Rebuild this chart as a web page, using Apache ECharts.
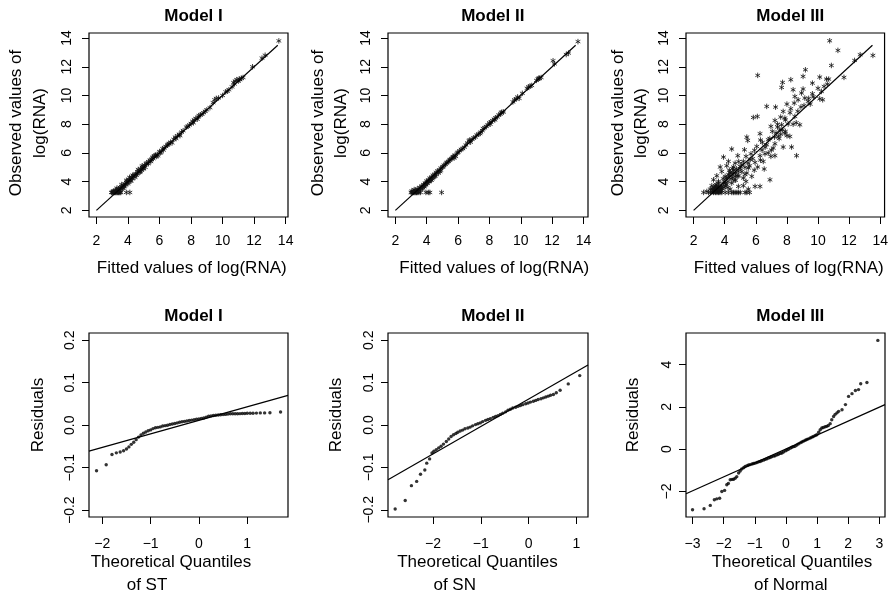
<!DOCTYPE html>
<html>
<head>
<meta charset="utf-8">
<script src="https://cdn.jsdelivr.net/npm/echarts@6/dist/echarts.min.js"></script>
<style>
html,body{margin:0;padding:0;background:#fff}
#chart{width:891px;height:596px}
</style>
</head>
<body>
<div id="chart"></div>
<script>
// ---- Fitted vs observed log(RNA), one list of [fitted, observed] per model ----
const fitObsI = [
  [2.95,3.25],[3.0,3.25],[3.05,3.25],[3.1,3.25],[3.15,3.25],[3.2,3.25],[3.25,3.25],[3.3,3.25],[3.35,3.25],[3.4,3.25],
  [3.45,3.25],[3.5,3.25],[3.55,3.25],[3.9,3.25],[4.12,3.25],
  [3.05,3.3],[3.1,3.35],[3.2,3.3],[3.2,3.4],[3.3,3.45],[3.35,3.3],[3.4,3.5],[3.45,3.4],[3.5,3.6],[3.55,3.5],
  [3.6,3.65],[3.65,3.55],[3.7,3.75],[3.75,3.65],[3.8,3.85],[3.85,3.8],[3.9,3.95],[3.95,4.0],[4.0,3.95],[4.05,4.1],
  [4.1,4.15],[4.15,4.05],[4.2,4.25],[4.25,4.3],[4.3,4.2],[4.35,4.4],[4.4,4.45],[4.5,4.55],[4.55,4.45],[4.6,4.7],
  [4.7,4.75],[4.75,4.65],[4.8,4.9],[4.85,4.8],[4.9,5.0],[4.95,4.9],[5.0,5.05],[5.05,5.15],[5.1,5.0],[5.2,5.3],
  [5.3,5.25],[5.4,5.5],[5.5,5.55],[5.55,5.7],[5.6,5.6],[5.7,5.8],[5.75,5.85],[5.85,5.9],[5.9,5.8],[6.0,6.1],
  [6.1,6.05],[6.2,6.3],[6.3,6.35],[6.4,6.45],[6.55,6.6],[6.7,6.75],[6.8,6.7],[6.9,6.95],[7.0,7.1],[7.15,7.2],
  [7.25,7.3],[7.3,7.2],[7.5,7.55],[7.7,7.8],[7.8,7.85],[7.9,7.95],[8.0,8.05],[8.1,8.2],[8.2,8.3],[8.3,8.4],
  [8.4,8.35],[8.5,8.6],[8.6,8.65],[8.7,8.7],[8.8,8.8],[9.0,9.0],[9.2,9.15],[9.4,9.5],[9.5,9.7],[9.6,9.8],
  [9.75,9.83],[10.0,10.0],[10.2,10.25],[10.3,10.3],[10.4,10.4],[10.6,10.6],[10.7,10.9],[10.8,11.0],[10.9,11.1],[11.0,11.0],
  [11.1,11.1],[11.2,11.2],[11.3,11.25],[11.9,12.0],[12.5,12.6],[12.7,12.8],[13.57,13.8],
  [3.3,3.55],[3.5,3.35],[3.6,3.8],[3.7,3.55],[3.8,3.7],[3.9,4.1],[4.0,3.85],[4.1,4.3],[4.2,4.05],[4.3,4.45],
  [4.45,4.3],[4.6,4.55],[4.65,4.85],[4.8,4.7],[4.9,5.1],[5.0,4.9],[5.15,5.25],[5.3,5.4],[5.45,5.4],[5.65,5.75],
  [5.8,5.75],[6.05,6.0],[6.25,6.2],[6.5,6.55],[6.6,6.65],[7.05,7.0],[7.4,7.45],[8.15,8.1],[8.45,8.5],[8.9,8.9],
  [10.75,10.8],[11.05,11.15]
];
const fitObsII = [
  [3.0,3.25],[3.05,3.25],[3.1,3.25],[3.15,3.25],[3.2,3.25],[3.25,3.25],[3.3,3.25],[3.35,3.25],[3.4,3.25],[3.5,3.25],
  [3.6,3.25],[3.95,3.25],[4.1,3.25],[4.2,3.25],[4.95,3.25],
  [3.05,3.35],[3.15,3.3],[3.2,3.45],[3.3,3.4],[3.35,3.3],[3.4,3.5],[3.5,3.4],[3.55,3.6],[3.6,3.45],[3.7,3.7],
  [3.75,3.6],[3.8,3.8],[3.85,3.65],[3.9,3.9],[3.95,3.8],[4.0,4.05],[4.05,3.9],[4.1,4.1],[4.15,4.0],[4.2,4.25],
  [4.25,4.15],[4.3,4.3],[4.35,4.2],[4.4,4.45],[4.5,4.5],[4.55,4.4],[4.6,4.65],[4.7,4.75],[4.8,4.8],[4.85,4.7],
  [4.9,4.95],[5.0,5.0],[5.1,5.15],[5.2,5.2],[5.3,5.35],[5.4,5.4],[5.5,5.55],[5.6,5.6],[5.7,5.75],[5.8,5.85],
  [5.85,5.75],[5.95,6.0],[6.1,6.15],[6.2,6.25],[6.3,6.3],[6.5,6.55],[6.6,6.7],[6.7,6.85],[6.8,6.75],[7.0,7.05],
  [7.1,7.1],[7.2,7.25],[7.3,7.3],[7.45,7.45],[7.6,7.7],[7.7,7.75],[7.8,7.85],[7.9,7.95],[8.0,8.1],[8.1,8.15],
  [8.2,8.25],[8.3,8.35],[8.4,8.45],[8.5,8.5],[8.6,8.65],[8.7,8.7],[8.8,8.85],[8.9,8.85],[9.5,9.55],[9.6,9.7],
  [9.8,9.9],[9.9,9.8],[10.1,10.15],[10.4,10.5],[10.5,10.6],[10.7,10.7],[11.0,11.05],[11.1,11.15],[11.2,11.2],[11.3,11.25],
  [12.06,12.42],[12.15,12.2],[12.9,12.85],[13.05,12.95],[13.65,13.75],
  [3.25,3.35],[3.45,3.3],[3.6,3.55],[3.7,3.5],[3.8,3.7],[3.9,3.75],[4.0,3.9],[4.1,4.0],[4.2,4.1],[4.3,4.1],
  [4.4,4.3],[4.5,4.35],[4.6,4.5],[4.75,4.6],[4.9,4.8],[5.05,5.05],[5.25,5.3],[5.45,5.5],[5.65,5.7],[5.75,5.65],
  [6.0,6.05],[6.4,6.4],[6.75,6.9],[6.9,6.95],[7.4,7.35],[7.55,7.55],[8.05,8.0],[8.35,8.3],[8.75,8.8],[9.7,9.75],
  [10.6,10.65],[11.15,11.2]
];
const fitObsIII = [
  [10.75,13.81],[11.28,13.14],[12.71,12.84],[13.53,12.79],[12.35,12.44],[10.86,12.09],[6.12,11.4],[9.19,11.79],[11.67,11.26],[7.72,10.91],
  [8.25,11.1],[7.66,10.56],[9.04,11.33],[9.64,10.86],[10.11,11.28],[10.54,11.14],[10.69,11.14],[10.6,10.79],[10.39,10.63],[10.22,10.28],
  [10.11,9.77],[9.64,10.12],[9.04,10.45],[8.94,10.17],[8.4,10.4],[8.51,9.93],[8.72,9.7],[9.15,9.82],[9.36,9.59],[8.47,9.47],
  [6.7,9.24],[7.27,9.19],[8.25,9.08],[7.76,8.89],[5.84,8.47],[6.1,8.54],[7.23,8.26],[7.87,8.43],[8.51,8.54],[8.83,7.96],
  [8.08,8.01],[7.66,7.96],[6.97,7.85],[7.06,7.5],[6.27,7.34],[7.55,7.61],[7.87,7.38],[8.19,7.15],[7.44,7.15],[6.8,6.92],
  [5.42,7.1],[5.48,6.87],[6.42,6.73],[7.23,6.64],[7.12,6.34],[6.7,6.57],[6.06,6.45],[7.76,6.41],[8.3,6.41],[5.91,6.18],
  [5.69,5.94],[5.27,6.22],[4.45,6.27],[4.84,5.81],[5.37,5.76],[6.27,5.81],[6.59,5.94],[6.97,5.76],[7.23,5.81],[8.62,5.81],
  [3.92,5.71],[4.24,5.41],[4.67,5.29],[5.2,5.41],[5.63,5.53],[5.95,5.34],[6.48,5.41],[6.12,5.02],[6.54,4.88],[5.52,4.95],
  [4.99,5.06],[4.56,5.02],[4.13,5.11],[3.71,5.02],[3.81,4.71],[4.35,4.65],[4.88,4.71],[5.42,4.6],[5.74,4.37],[5.2,4.25],
  [4.67,4.37],[4.03,4.37],[3.49,4.41],[3.28,4.13],[3.6,4.02],[6.91,4.13],[5.37,4.02],[5.2,3.72],[5.95,3.67],[6.27,3.67],
  [5.52,3.48],[4.88,3.67],[4.35,3.48],[4.03,3.67],[3.17,3.72],[3.07,3.48],[2.85,3.32],[2.64,3.25],
  [2.96,3.25],[3.28,3.25],[3.6,3.25],[3.81,3.25],[4.03,3.25],[4.24,3.25],[4.56,3.25],[4.67,3.25],[4.78,3.25],[4.88,3.25],
  [5.31,3.25],[5.42,3.25],[3.1,3.25],[3.4,3.25],[3.5,3.25],[3.7,3.25],
  [3.2,3.3],[3.3,3.4],[3.4,3.5],[3.5,3.3],[3.6,3.6],[3.5,3.7],[3.4,3.3],[3.3,3.6],[3.7,3.4],[3.6,3.9],
  [3.45,3.8],[3.55,3.45],[3.65,3.3],[3.75,3.55],[3.2,3.5],[3.35,3.35],[3.5,3.55],[3.6,3.35],[3.45,3.6],[3.8,3.7],
  [3.9,3.9],[4.0,4.0],[4.1,4.2],[4.3,4.4],[4.2,4.0],[4.4,4.6],[4.5,4.3],[4.6,4.8],[4.7,4.6],[4.8,4.4],
  [4.5,4.9],[4.3,4.8],[4.1,3.8],[3.9,4.2],[4.6,4.1],[5.0,4.9],[5.1,5.2],[4.9,5.4],[5.6,5.1],[5.8,5.6],
  [6.4,6.2],[6.6,6.4],[6.9,7.0],[7.3,7.4],[7.5,7.0],[7.6,7.3],[7.4,7.8],[7.9,7.5],[8.0,7.2],[8.2,8.8],
  [7.9,8.3],[7.6,8.5],[7.4,8.0],[8.9,9.2],[9.4,9.8],[9.7,9.9],[8.6,8.1],[8.0,9.4],[7.0,6.2],[6.3,6.9],
  [3.25,3.4],[3.35,3.5],[3.45,3.45],[3.55,3.35],[3.65,3.5],[3.7,3.7],[3.75,3.35],[3.4,3.7],[3.3,3.3],[3.6,3.45],
  [3.5,3.5],[3.85,3.5],[3.95,3.6],[4.05,3.9],[4.15,4.3],[4.25,4.5],[4.4,4.2],[4.55,4.6],[4.75,4.9],[4.9,4.4],
  [5.1,4.7],[5.3,5.0],[5.5,5.3],[5.0,3.25],[5.6,3.25],[4.45,3.25],[4.2,3.6],[4.45,3.9],[4.7,4.1],[5.3,4.5],
  [5.9,4.8],[6.3,5.5],[6.8,6.0],[7.2,7.1],[7.7,7.6],[8.4,8.0],[8.7,8.9],[9.1,9.3],[9.5,9.4],[10.0,10.5],
  [10.3,9.7]
];

// Straight reference segment drawn in each fitted-vs-observed panel (from, to)
const diagLine = [2, 13.5];

// ---- Residual quantile plots: theoretical quantiles (x) and residuals (y) ----
const qqXI = [-2.12,-1.92,-1.80,-1.71,-1.63,-1.56,-1.50,-1.45,-1.40,-1.35,-1.30,-1.25,-1.20,-1.15,-1.10,-1.05,-1.00,-0.95,
  -0.90,-0.85,-0.80,-0.75,-0.70,-0.65,-0.60,-0.55,-0.50,-0.45,-0.40,-0.35,-0.30,-0.25,-0.20,-0.15,-0.10,-0.05,0.00,
  0.05,0.10,0.15,0.20,0.25,0.30,0.35,0.40,0.45,0.50,0.55,0.60,0.65,0.70,0.75,0.80,0.85,0.90,0.95,1.00,1.06,1.12,
  1.19,1.27,1.36,1.47,1.69];
const qqYI = [-0.107,-0.093,-0.069,-0.065,-0.063,-0.060,-0.056,-0.051,-0.045,-0.040,-0.034,-0.028,-0.023,-0.019,-0.016,-0.013,-0.011,-0.008,
  -0.006,-0.005,-0.004,-0.002,-0.001,0.000,0.0016,0.003,0.004,0.0055,0.007,0.008,0.009,0.010,0.011,0.012,0.013,0.014,0.015,
  0.016,0.017,0.019,0.021,0.022,0.023,0.0235,0.024,0.0245,0.025,0.0255,0.0265,0.027,0.027,0.027,0.027,0.0272,0.0275,0.0275,0.028,0.028,0.028,
  0.0285,0.029,0.029,0.0295,0.031];
const qqXII = [-2.79,-2.58,-2.45,-2.34,-2.26,-2.17,-2.13,-2.07,-2.02,-1.98,-1.93,-1.88,-1.83,-1.78,-1.72,-1.67,-1.62,-1.57,-1.52,-1.48,
  -1.43,-1.38,-1.33,-1.27,-1.22,-1.17,-1.11,-1.06,-1.01,-0.96,-0.90,-0.85,-0.80,-0.74,-0.69,-0.64,-0.59,-0.54,-0.48,-0.43,
  -0.38,-0.33,-0.27,-0.22,-0.17,-0.12,-0.06,-0.01,0.04,0.10,0.15,0.20,0.26,0.31,0.36,0.41,0.46,0.52,0.58,0.66,0.83,1.07];
const qqYII = [-0.198,-0.178,-0.143,-0.133,-0.116,-0.106,-0.090,-0.080,-0.066,-0.062,-0.058,-0.054,-0.050,-0.045,-0.039,-0.033,-0.027,-0.023,-0.020,-0.017,
  -0.014,-0.012,-0.009,-0.007,-0.005,-0.002,0.001,0.003,0.005,0.008,0.011,0.013,0.015,0.018,0.020,0.022,0.025,0.028,0.031,0.035,
  0.037,0.040,0.042,0.044,0.046,0.048,0.050,0.052,0.054,0.056,0.058,0.060,0.062,0.064,0.066,0.068,0.070,0.072,0.076,0.082,0.097,0.1165];
const qqXIII = [-3.0,-2.63,-2.43,-2.30,-2.22,-2.13,-2.06,-1.97,-1.90,-1.85,-1.79,-1.73,-1.68,-1.63,-1.58,-1.52,-1.47,-1.42,-1.36,-1.31,
  -1.25,-1.20,-1.15,-1.09,-1.04,-0.99,-0.93,-0.88,-0.83,-0.78,-0.72,-0.67,-0.62,-0.56,-0.51,-0.46,-0.40,-0.35,-0.29,-0.24,
  -0.18,-0.13,-0.08,-0.02,0.03,0.08,0.14,0.19,0.24,0.29,0.35,0.40,0.46,0.51,0.56,0.62,0.67,0.72,0.78,0.83,
  0.88,0.94,0.99,1.05,1.10,1.15,1.20,1.26,1.31,1.36,1.42,1.47,1.53,1.58,1.64,1.69,1.80,1.91,2.01,2.12,
  2.23,2.33,2.40,2.60,2.95];
const qqYIII = [-2.87,-2.82,-2.66,-2.39,-2.35,-2.32,-2.00,-1.95,-1.68,-1.62,-1.45,-1.43,-1.42,-1.37,-1.30,-1.13,-1.03,-0.94,-0.88,-0.82,
  -0.78,-0.75,-0.73,-0.70,-0.68,-0.66,-0.63,-0.60,-0.58,-0.55,-0.52,-0.48,-0.46,-0.42,-0.39,-0.36,-0.33,-0.31,-0.27,-0.24,
  -0.20,-0.18,-0.13,-0.08,-0.04,0.00,0.05,0.09,0.12,0.14,0.20,0.25,0.30,0.34,0.38,0.42,0.46,0.49,0.53,0.57,
  0.60,0.65,0.68,0.80,0.92,1.00,1.03,1.06,1.08,1.12,1.21,1.39,1.55,1.65,1.72,1.79,1.87,2.11,2.50,2.63,
  2.78,2.82,3.10,3.16,5.15];

// Reference lines of the quantile plots: [intercept, slope]
const qqLineI = [0.0114, 0.0318];
const qqLineII = [0.0612, 0.0647];
const qqLineIII = [0.0086, 0.66];

// Tick positions
const ticksFit = [2, 4, 6, 8, 10, 12, 14];
const ticksResSmall = [-0.2, -0.1, 0, 0.1, 0.2];
const ticksQI = [-2, -1, 0, 1];
const ticksQII = [-2, -1, 0, 1];
const ticksQIII = [-3, -2, -1, 0, 1, 2, 3];
const ticksResIII = [-2, 0, 2, 4];

const titles = ['Model I', 'Model II', 'Model III'];

// ---- layout ----
const FONT = '"Liberation Sans", Arial, Helvetica, sans-serif';
const grids = [
  {left: 89, top: 33, width: 199, height: 184},
  {left: 388, top: 33, width: 200, height: 184},
  {left: 686, top: 33, width: 199, height: 184},
  {left: 89, top: 333, width: 199, height: 184},
  {left: 388, top: 333, width: 200, height: 184},
  {left: 686, top: 333, width: 199, height: 184}
];
const xRanges = [[1.53, 14.15], [1.53, 14.29], [1.51, 14.28], [-2.276, 1.844], [-2.94, 1.243], [-3.21, 3.18]];
const yRanges = [[1.54, 14.35], [1.54, 14.35], [1.54, 14.35], [-0.216, 0.217], [-0.217, 0.217], [-3.21, 5.5]];
const xTicks = [ticksFit, ticksFit, ticksFit, ticksQI, ticksQII, ticksQIII];
const yTicks = [ticksFit, ticksFit, ticksFit, ticksResSmall, ticksResSmall, ticksResIII];

const minus = v => (v < 0 ? '\u2212' + Math.abs(v) : String(v));
const oneDec = v => { const s = Math.abs(v).toFixed(1); return v < -1e-9 ? '\u2212' + s : s; };

const xAxes = grids.map((g, i) => ({
  type: 'value', gridIndex: i, min: xRanges[i][0], max: xRanges[i][1], position: 'bottom',
  axisLine: {show: false, onZero: false}, splitLine: {show: false},
  axisTick: {show: true, length: 7, customValues: xTicks[i], lineStyle: {color: '#000', width: 1}},
  axisLabel: {customValues: xTicks[i], color: '#000', fontSize: 14, fontFamily: FONT,
    margin: i < 3 ? 17 : 20, formatter: minus, showMinLabel: true, showMaxLabel: true}
}));
const yAxes = grids.map((g, i) => ({
  type: 'value', gridIndex: i, min: yRanges[i][0], max: yRanges[i][1], position: 'left',
  axisLine: {show: false, onZero: false}, splitLine: {show: false},
  axisTick: {show: true, length: 7, customValues: yTicks[i], lineStyle: {color: '#000', width: 1}},
  axisLabel: {customValues: yTicks[i], color: '#000', fontSize: 14, fontFamily: FONT, rotate: 90,
    margin: i < 3 ? 15 : 12, formatter: (i === 3 || i === 4) ? oneDec : minus,
    showMinLabel: true, showMaxLabel: true}
}));

const STAR = 'path://M0,-10L0,10M-8.66,-5L8.66,5M-8.66,5L8.66,-5';
const starSeries = (data, i) => ({
  type: 'scatter', xAxisIndex: i, yAxisIndex: i, data: data, silent: true,
  symbol: STAR, symbolSize: 5.5, symbolKeepAspect: true,
  itemStyle: {color: 'rgba(0,0,0,0)', borderColor: '#111', borderWidth: 1}, z: 3
});
const dotSeries = (xs, ys, i) => ({
  type: 'scatter', xAxisIndex: i, yAxisIndex: i, silent: true,
  data: xs.map((x, k) => [x, ys[k]]),
  symbol: 'circle', symbolSize: 3.4, itemStyle: {color: '#000'}, z: 3
});
const segSeries = (pts, i) => ({
  type: 'line', xAxisIndex: i, yAxisIndex: i, data: pts, silent: true,
  symbol: 'none', lineStyle: {color: '#000', width: 1.2}, z: 4
});
const qqSeg = (ab, i) => segSeries(xRanges[i].map(x => [x, ab[0] + ab[1] * x]), i);

const series = [
  starSeries(fitObsI, 0), segSeries([[diagLine[0], diagLine[0]], [diagLine[1], diagLine[1]]], 0),
  starSeries(fitObsII, 1), segSeries([[diagLine[0], diagLine[0]], [diagLine[1], diagLine[1]]], 1),
  starSeries(fitObsIII, 2), segSeries([[diagLine[0], diagLine[0]], [diagLine[1], diagLine[1]]], 2),
  dotSeries(qqXI, qqYI, 3), qqSeg(qqLineI, 3),
  dotSeries(qqXII, qqYII, 4), qqSeg(qqLineII, 4),
  dotSeries(qqXIII, qqYIII, 5), qqSeg(qqLineIII, 5)
];

// ---- text: titles and axis names ----
const txt = (text, x, y, opts) => Object.assign({
  type: 'text', x: x, y: y, silent: true,
  style: {text: text, fill: '#000', align: 'center', verticalAlign: 'middle',
    font: (opts && opts.bold ? 'bold ' : '') + '17px ' + FONT}
}, opts && opts.rot ? {rotation: Math.PI / 2} : {});

const graphics = [
  txt(titles[0], 193.5, 16.5, {bold: true}), txt(titles[1], 492.8, 16.5, {bold: true}), txt(titles[2], 790.3, 16.5, {bold: true}),
  txt(titles[0], 193.5, 316.7, {bold: true}), txt(titles[1], 492.8, 316.7, {bold: true}), txt(titles[2], 790.3, 316.7, {bold: true}),
  txt('Fitted values of log(RNA)', 191.7, 268.5), txt('Fitted values of log(RNA)', 494.2, 268.5), txt('Fitted values of log(RNA)', 788.7, 268.5),
  txt('Observed values of', 16.7, 123, {rot: true}), txt('log(RNA)', 40, 123, {rot: true}),
  txt('Observed values of', 318.3, 123, {rot: true}), txt('log(RNA)', 341.7, 123, {rot: true}),
  txt('Observed values of', 618.3, 123, {rot: true}), txt('log(RNA)', 641.7, 123, {rot: true}),
  txt('Theoretical Quantiles', 171, 562), txt('of ST', 147, 585.5),
  txt('Theoretical Quantiles', 477.5, 562), txt('of SN', 454.7, 585.5),
  txt('Theoretical Quantiles', 792, 562), txt('of Normal', 790.8, 585.5),
  txt('Residuals', 38.3, 415, {rot: true}), txt('Residuals', 336.7, 415, {rot: true}), txt('Residuals', 633.3, 415, {rot: true})
];

const chart = echarts.init(document.getElementById('chart'), null, {renderer: 'canvas'});
chart.setOption({
  animation: false,
  backgroundColor: '#fff',
  grid: grids.map(g => Object.assign({show: true, borderColor: '#000', borderWidth: 1.2, backgroundColor: 'transparent'}, g)),
  xAxis: xAxes,
  yAxis: yAxes,
  series: series,
  graphic: graphics
});
</script>
</body>
</html>
